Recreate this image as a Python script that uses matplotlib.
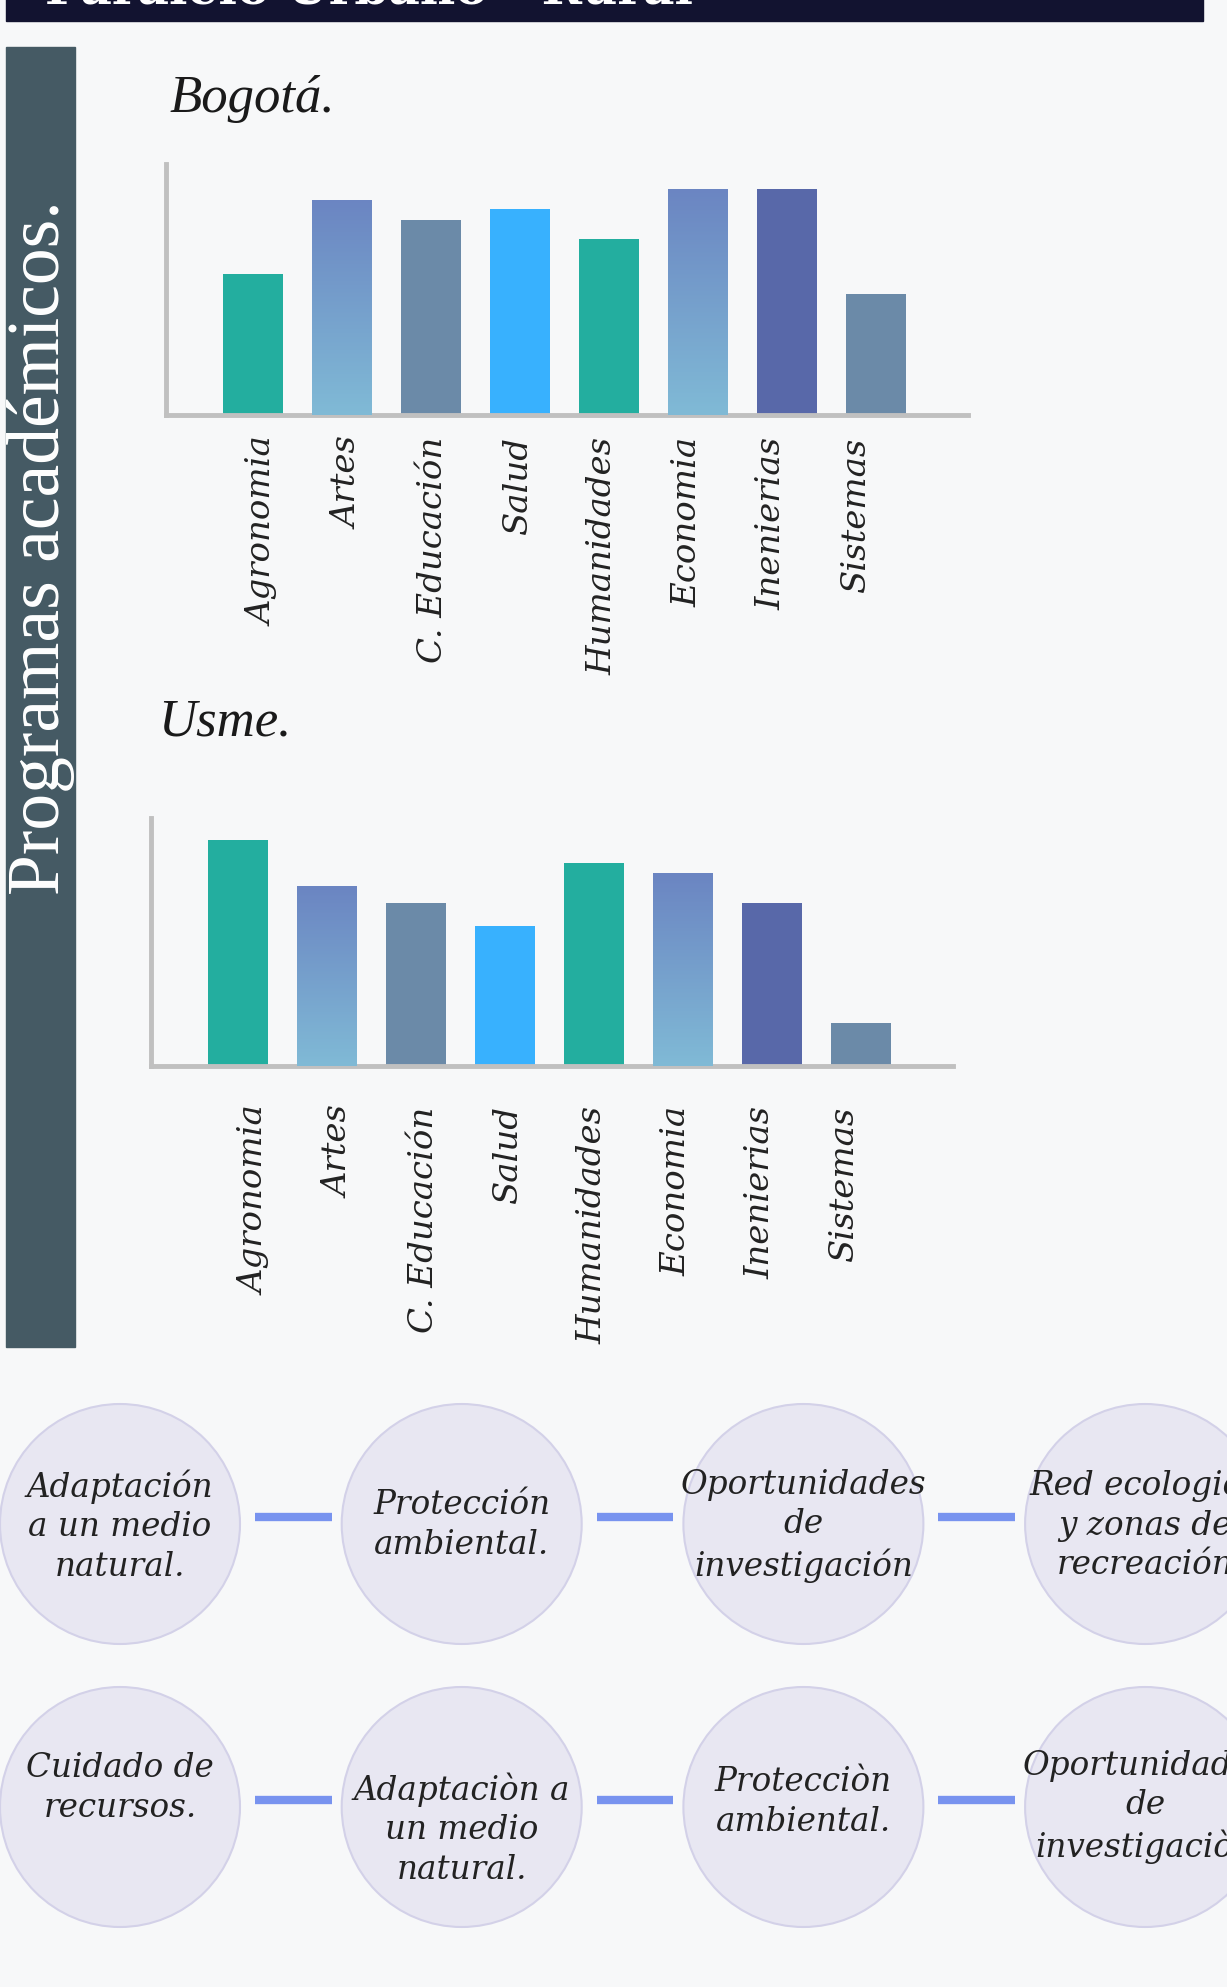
import numpy as np
import matplotlib
matplotlib.use("Agg")
import matplotlib.pyplot as plt
from matplotlib.patches import Rectangle, Circle
from matplotlib.colors import LinearSegmentedColormap

# --- data ---
programs = ["Agronomia", "Artes", "C. Educación", "Salud", "Humanidades",
            "Economia", "Inenierias", "Sistemas"]
bogota = [141, 215, 195, 206, 176, 226, 226, 121]
usme = [229, 182, 165, 142, 205, 195, 165, 44]
bar_colors = ["#23ae9f", "grad", "#6b8aa8", "#38b1fe", "#23ae9f", "grad", "#5868a9", "#6b8aa8"]
grad_top, grad_bottom = "#6b85c2", "#80bad6"

row1 = ["Adaptación\na un medio\nnatural.", "Protección\nambiental.",
        "Oportunidades\nde\ninvestigación", "Red ecologica\ny zonas de\nrecreación"]
row2 = ["Cuidado de\nrecursos.", "Adaptaciòn a\nun medio\nnatural.",
        "Protecciòn\nambiental.", "Oportunidades\nde\ninvestigaciòn"]
row2_dy = [-19, 22, -5, 0]

W, H = 1227, 1987
BG = "#f7f8f9"
LBL = dict(family="DejaVu Serif", style="italic", color="#222222")


def box(l, t, r, b):
    return [l / W, 1 - b / H, (r - l) / W, (b - t) / H]


fig = plt.figure(figsize=(W / 100, H / 100), dpi=100, facecolor=BG)

# canvas in pixel units for the decoration
cv = fig.add_axes([0, 0, 1, 1])
cv.set_xlim(0, W); cv.set_ylim(H, 0); cv.axis("off")
cv.add_patch(Rectangle((6, -5), 1197, 26, color="#121330", zorder=1))
cv.text(45, 4, "Paralelo Urbano - Rural", family="DejaVu Serif", weight="bold",
        fontsize=35, color="white", ha="left", va="baseline", zorder=2)
cv.add_patch(Rectangle((6, 47), 69, 1300, color="#455a64", zorder=1))
cv.text(41, 548, "Programas académicos.", family="Liberation Serif", fontsize=53,
        color="white", rotation=90, ha="center", va="center", zorder=2)
cv.text(170, 112, "Bogotá.", family="Liberation Serif", style="italic", fontsize=38,
        color="#1a1a1a", ha="left", va="baseline")
cv.text(158, 735, "Usme.", family="Liberation Serif", style="italic", fontsize=38,
        color="#1a1a1a", ha="left", va="baseline")

# bubbles
cx0, step, r = 120, 341.7, 120
for ry, texts, dys in [(1524, row1, [2, 1, 2, 2]), (1807, row2, row2_dy)]:
    for i, t in enumerate(texts):
        cx = cx0 + i * step
        cv.add_patch(Circle((cx, ry), r, facecolor="#e8e7f2", edgecolor="#d3d1e8", lw=1.5, zorder=2))
        cv.text(cx, ry + dys[i], t, ha="center", va="center", fontsize=23.5,
                linespacing=1.3, zorder=3, **LBL)
        if i < len(texts) - 1:
            cv.plot([cx + r + 15, cx + step - r - 10], [ry - 7, ry - 7], color="#7893ef",
                    lw=6, solid_capstyle="butt", zorder=2)


def bar_chart(rect, vals, pad, tick0, tick_step):
    ax = fig.add_axes(rect)
    ax.set_facecolor("none")
    x = np.arange(len(programs))
    cols = [grad_top if c == "grad" else c for c in bar_colors]
    bars = ax.bar(x, vals, width=0.67, color=cols, zorder=2)
    cmap = LinearSegmentedColormap.from_list("g", [grad_bottom, grad_top])
    for b, c in zip(bars, bar_colors):
        if c == "grad":
            im = ax.imshow(np.linspace(0, 1, 256).reshape(-1, 1), cmap=cmap, origin="lower",
                           extent=[b.get_x(), b.get_x() + b.get_width(), 0, b.get_height()],
                           aspect="auto", zorder=3)
            im.set_clip_path(b)
    ax.set_xlim(-0.98, 8.03)
    ax.set_ylim(0, 251)
    # labels sit on a slightly tighter grid than the bars
    ax.set_xticks(tick0 + tick_step * x, programs, rotation=90, fontsize=24.5, **LBL)
    ax.tick_params(axis="x", length=0, pad=pad)
    ax.set_yticks([])
    for s in ["top", "right"]:
        ax.spines[s].set_visible(False)
    for s in ["left", "bottom"]:
        ax.spines[s].set_color("#c0c0c0")
        ax.spines[s].set_linewidth(3.5)
    return ax


bar_chart(box(166, 164, 968, 415), bogota, 16, 0.12, 0.951)
bar_chart(box(151, 818, 953, 1066), usme, 29, 0.20, 0.944)

fig.savefig("out.png", dpi=100, facecolor=BG)
